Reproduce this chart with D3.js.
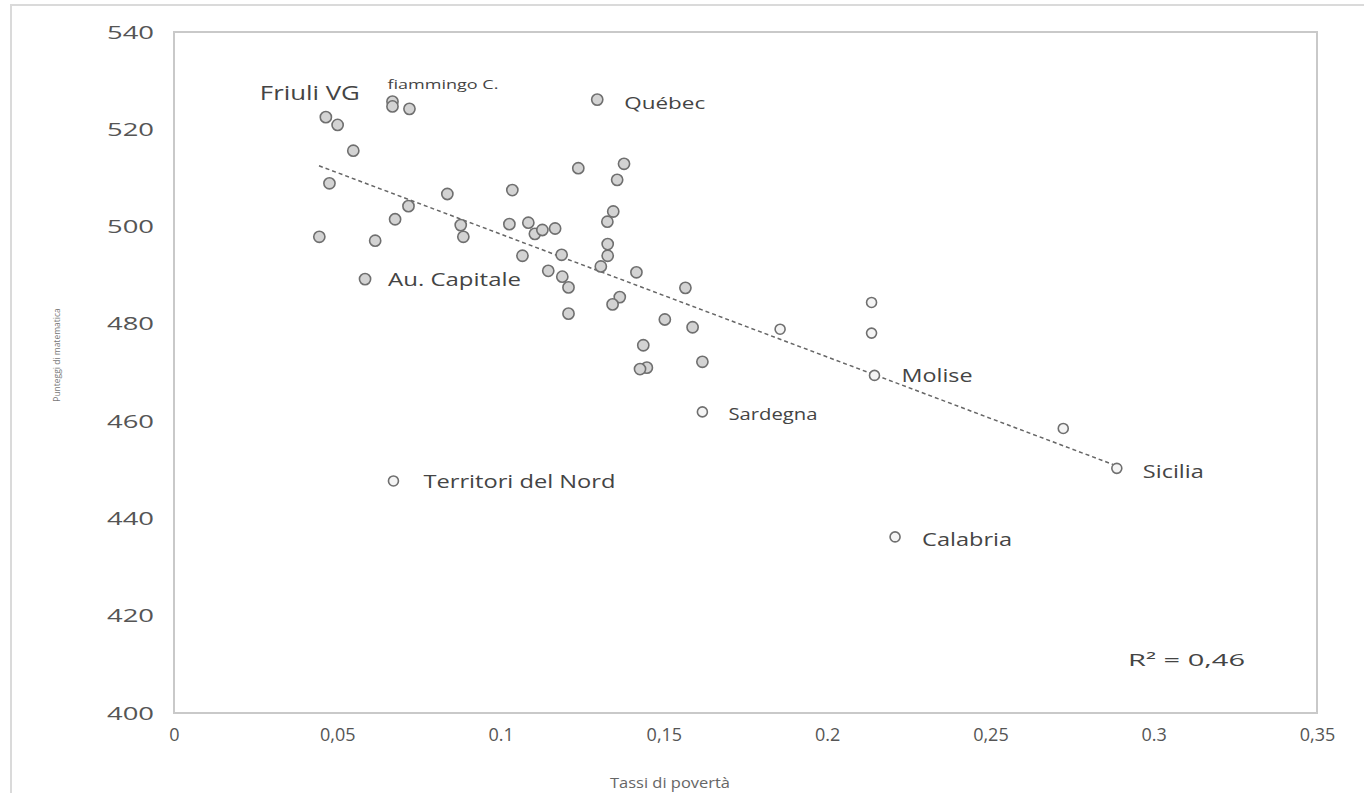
<!DOCTYPE html>
<html>
<head>
<meta charset="utf-8">
<script src="https://cdn.jsdelivr.net/npm/d3@7"></script>
<style>
  html, body { margin: 0; padding: 0; background: #fff; }
  svg { display: block; }
  text { font-family: "Open Sans", "Noto Sans", sans-serif; }
</style>
</head>
<body>
<svg id="chart" width="1364" height="793"></svg>
<script>
// ---- data ----
const povertyRates = [
  0.0465, 0.0501, 0.0549, 0.0476, 0.0445, 0.0669, 0.0669, 0.0721, 0.0585, 0.0616,
  0.0677, 0.0718, 0.0837, 0.0878, 0.0886, 0.1296, 0.1036, 0.1027, 0.1085, 0.1105,
  0.1128, 0.1167, 0.1067, 0.1187, 0.1146, 0.1189, 0.1208, 0.1208, 0.1238, 0.1378,
  0.1357, 0.1345, 0.1327, 0.1328, 0.1328, 0.1307, 0.1416, 0.1566, 0.1365, 0.1343,
  0.1503, 0.1588, 0.1437, 0.1448, 0.1427, 0.1618, 0.1856, 0.2136, 0.2136, 0.2145,
  0.1618, 0.2723, 0.2887, 0.2208, 0.0672
];
const mathScores = [
  522.5, 520.9, 515.6, 508.9, 497.9, 525.7, 524.7, 524.2, 489.2, 497.1,
  501.5, 504.2, 506.7, 500.3, 497.9, 526.1, 507.5, 500.5, 500.8, 498.5,
  499.3, 499.6, 494.0, 494.2, 490.9, 489.7, 487.5, 482.1, 512.0, 512.9,
  509.6, 503.1, 501.0, 496.4, 494.0, 491.8, 490.6, 487.4, 485.5, 484.0,
  480.9, 479.3, 475.6, 471.0, 470.7, 472.2, 478.9, 484.4, 478.1, 469.4,
  461.9, 458.5, 450.3, 436.2, 447.7
];
const regionNames = ["Friuli VG", "fiammingo C.", "Québec", "Au. Capitale", "Territori del Nord",
                     "Sardegna", "Molise", "Sicilia", "Calabria"];
const regionPoint = [0, 5, 15, 8, 54, 50, 49, 52, 53];   // index into the point arrays
const trendX = [0.0444, 0.2875];
const trendY = [512.5, 451.1];
const xTicks = [0, 0.05, 0.1, 0.15, 0.2, 0.25, 0.3, 0.35];
const xTickLabels = ["0", "0,05", "0.1", "0,15", "0.2", "0,25", "0.3", "0,35"];
const yTicks = [400, 420, 440, 460, 480, 500, 520, 540];
const xTitle = "Tassi di povertà";
const yTitle = "Punteggi di matematica";
const r2Text = "R² = 0,46";

// ---- layout ----
const mLeft = 174, mRight = 1317, mTop = 32, mBottom = 713;
const svg = d3.select("#chart");

const x = d3.scaleLinear().domain([0, 0.35]).range([mLeft, mRight]);
const y = d3.scaleLinear().domain([400, 540]).range([mBottom, mTop]);

// outer border of the figure
svg.append("path")
  .attr("d", `M11,800 L11,5 L1370,5`)
  .attr("fill", "none").attr("stroke", "#dadada").attr("stroke-width", 2);

// plot frame
svg.append("rect")
  .attr("x", mLeft).attr("y", mTop)
  .attr("width", mRight - mLeft).attr("height", mBottom - mTop)
  .attr("fill", "none").attr("stroke", "#c9c9c9").attr("stroke-width", 2);

// axes (labels only)
const xAxis = d3.axisBottom(x).tickValues(xTicks)
  .tickFormat((d, i) => xTickLabels[i]).tickSize(0).tickPadding(15);
const gx = svg.append("g").attr("transform", `translate(0,${mBottom})`).call(xAxis);
gx.select(".domain").remove();
gx.selectAll("text").attr("font-size", 18).attr("fill", "#555")
  .style("font-family", "'Open Sans', sans-serif");

const yAxis = d3.axisLeft(y).tickValues(yTicks).tickSize(0).tickPadding(20);
const gy = svg.append("g").attr("transform", `translate(${mLeft},0)`).call(yAxis);
gy.select(".domain").remove();
gy.selectAll("text").attr("font-size", 19).attr("fill", "#555")
  .attr("textLength", 47).attr("lengthAdjust", "spacingAndGlyphs")
  .style("font-family", "'Open Sans', sans-serif");

// axis titles
svg.append("text").attr("x", 670).attr("y", 788)
  .attr("text-anchor", "middle").attr("font-size", 14).attr("fill", "#666")
  .attr("textLength", 120).attr("lengthAdjust", "spacingAndGlyphs")
  .text(xTitle);
svg.append("text")
  .attr("transform", `translate(60,355) rotate(-90)`)
  .attr("text-anchor", "middle").attr("font-size", 8.5).attr("fill", "#777")
  .text(yTitle);

// trend line
const line = d3.line().x(d => x(d[0])).y(d => y(d[1]));
svg.append("path")
  .datum(d3.zip(trendX, trendY))
  .attr("d", line)
  .attr("fill", "none").attr("stroke", "#666")
  .attr("stroke-width", 1.5).attr("stroke-dasharray", "4,3");

// points
const pts = d3.zip(povertyRates, mathScores);
const isOuter = d => d[0] > 0.17 || d[1] < 465;
svg.append("g").selectAll("circle").data(pts).join("circle")
  .attr("cx", d => x(d[0])).attr("cy", d => y(d[1]))
  .attr("r", d => isOuter(d) ? 5 : 5.6)
  .attr("fill", d => isOuter(d) ? "#f4f4f4" : "#d3d3d3")
  .attr("stroke", "#6f6f6f").attr("stroke-width", 1.6);

// region labels
const labelStyle = [
  { dx: -66, dy: -17, size: 19.5, len: 100 },
  { dx: -5,  dy: -13, size: 13,   len: 111 },
  { dx: 27,  dy: 9,   size: 17,   len: 81 },
  { dx: 23,  dy: 6.5, size: 18.5, len: 133 },
  { dx: 30,  dy: 6.7, size: 18.7, len: 192 },
  { dx: 26,  dy: 8.3, size: 16,   len: 89 },
  { dx: 27,  dy: 7,   size: 18.7, len: 71 },
  { dx: 26,  dy: 9.4, size: 18.7, len: 61 },
  { dx: 27,  dy: 9,   size: 19,   len: 90 }
];
svg.append("g").selectAll("text").data(regionNames).join("text")
  .attr("x", (d, i) => x(povertyRates[regionPoint[i]]) + labelStyle[i].dx)
  .attr("y", (d, i) => y(mathScores[regionPoint[i]]) + labelStyle[i].dy)
  .attr("font-size", (d, i) => labelStyle[i].size)
  .attr("textLength", (d, i) => labelStyle[i].len)
  .attr("lengthAdjust", "spacingAndGlyphs")
  .attr("fill", "#444")
  .text(d => d);

// R squared
svg.append("text").attr("x", 1128).attr("y", 666)
  .attr("font-size", 17).attr("fill", "#444")
  .attr("textLength", 117).attr("lengthAdjust", "spacingAndGlyphs")
  .text(r2Text);
</script>
</body>
</html>
